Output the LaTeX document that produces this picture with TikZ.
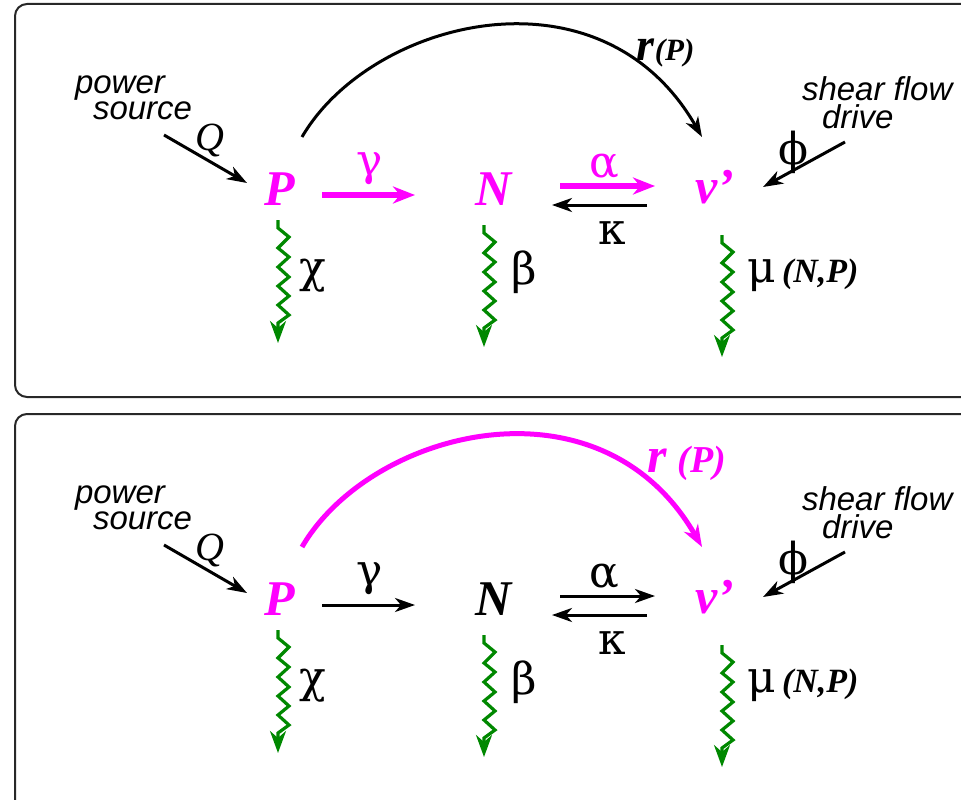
\documentclass[tikz,border=0pt]{standalone}
\usepackage{fontspec}
\setmainfont{Liberation Serif}
\newfontfamily\hvfont{Liberation Sans}
\newfontfamily\grfont{DejaVu Serif}
\usetikzlibrary{arrows.meta}
\definecolor{mag}{RGB}{255,0,255}
\definecolor{grn}{RGB}{0,136,0}
\definecolor{framec}{RGB}{40,40,40}
\newcommand\greenzz[2]{\draw[zigarrow] (#1) -- ++(0,8) -- ++(11,9) -- ++(-11,11) -- ++(11,9) -- ++(-11,10) -- ++(11,10) -- ++(-11,9) -- ++(11,10) -- ++(-11,9) -- ++(11,10) -- ++(-11,8) -- (#2);}
\begin{document}
\begin{tikzpicture}[x=1pt,y=-1pt,
  every node/.style={inner sep=0pt,outer sep=0pt},
  var/.style={font=\fontsize{50}{50}\selectfont\bfseries\itshape},
  grk/.style={font=\fontsize{44}{44}\selectfont\grfont},
  lbl/.style={font=\fontsize{33}{33}\selectfont\hvfont\itshape,anchor=base west},
  qlbl/.style={font=\fontsize{40}{40}\selectfont\itshape},
  nplbl/.style={anchor=base west,font=\fontsize{34}{34}\selectfont\bfseries\itshape},
  thinarrow/.style={line width=3pt,-{Stealth[length=20pt,width=14pt,inset=6pt]}},
  thickarrow/.style={line width=6pt,-{Stealth[length=22pt,width=17pt,inset=7pt]}},
  zigarrow/.style={draw=grn,line width=3.2pt,-{Stealth[length=22pt,width=16pt,inset=7pt]}},
  panel/.style={draw=framec,line width=2pt,rounded corners=12pt},
]
\useasboundingbox (0,0) rectangle (961,800);
\clip (0,0) rectangle (961,800);
\draw[panel] (15,4) rectangle (990,397);
\draw[panel] (15,414) rectangle (990,830);

% ---------------- top panel ----------------
\node[var,text=mag] (P1) at (280,189) {P};
\node[var,text=mag] (N1) at (494,189) {N};
\node[var,text=mag] (V1) at (715,187) {v’};
\node[lbl] (pw1) at (75,93) {power};
\node[lbl] (so1) at (93,119) {source};
\node[lbl] (sh1) at (802,100) {shear flow};
\node[lbl] (dr1) at (822,128) {drive};
\node[qlbl] (Q1) at (210,140) {Q};
\node[grk] (phi1) at (793,152) {ϕ};
\node[grk,text=mag] (g1) at (370,169) {γ};
\node[grk,text=mag] (a1) at (604,166) {α};
\node[grk] (k1) at (612,233) {κ};
\node[grk] (c1) at (313,276) {χ};
\node[grk] (b1) at (524,272) {β};
\node[grk] (m1) at (762,276) {μ};
\node[nplbl] (np1) at (782,282) {(N,P)};
\node[anchor=base west] (r1) at (636,61) {{\fontsize{46}{46}\selectfont\bfseries\itshape r}\kern1pt{\fontsize{31}{31}\selectfont\bfseries\itshape (P)}};
\coordinate (qs1) at (164,135);
\coordinate (fs1) at (845,142);
\draw[thinarrow] (qs1) -- ([shift={(-33,-6)}]P1.center);
\draw[thinarrow] (fs1) -- ([shift={(48,0)}]V1.center);
\draw[thickarrow,draw=mag,fill=mag] ([shift={(42,6)}]P1.center) -- ([shift={(-79,6)}]N1.center);
\draw[thickarrow,draw=mag,fill=mag] ([shift={(66,-3)}]N1.center) -- ([shift={(-60,-1)}]V1.center);
\draw[thinarrow] ([shift={(-68,18)}]V1.center) -- ([shift={(58,16)}]N1.center);
\draw[thinarrow] ([shift={(22,-52)}]P1.center) .. controls (370,20) and (600,-40) .. ([shift={(-13,-50)}]V1.center);
\coordinate (ze1) at (278,343);
\coordinate (ze2) at (484,347);
\coordinate (ze3) at (722,357);
\greenzz{[shift={(-2,31)}]P1.center}{ze1}
\greenzz{[shift={(-10,36)}]N1.center}{ze2}
\greenzz{[shift={(7,48)}]V1.center}{ze3}

% ---------------- bottom panel ----------------
\node[var,text=mag] (P2) at (280,599) {P};
\node[var] (N2) at (494,599) {N};
\node[var,text=mag] (V2) at (715,597) {v’};
\node[lbl] (pw2) at (75,503) {power};
\node[lbl] (so2) at (93,529) {source};
\node[lbl] (sh2) at (802,510) {shear flow};
\node[lbl] (dr2) at (822,538) {drive};
\node[qlbl] (Q2) at (210,550) {Q};
\node[grk] (phi2) at (793,562) {ϕ};
\node[grk] (g2) at (370,579) {γ};
\node[grk] (a2) at (604,576) {α};
\node[grk] (k2) at (612,643) {κ};
\node[grk] (c2) at (313,686) {χ};
\node[grk] (b2) at (524,682) {β};
\node[grk] (m2) at (762,686) {μ};
\node[nplbl] (np2) at (782,692) {(N,P)};
\node[anchor=base west,text=mag] (r2) at (647,472) {{\fontsize{50}{50}\selectfont\bfseries\itshape r}\kern11pt{\fontsize{38}{38}\selectfont\bfseries\itshape (P)}};
\coordinate (qs2) at (164,545);
\coordinate (fs2) at (845,552);
\draw[thinarrow] (qs2) -- ([shift={(-33,-6)}]P2.center);
\draw[thinarrow] (fs2) -- ([shift={(48,0)}]V2.center);
\draw[thinarrow] ([shift={(42,6)}]P2.center) -- ([shift={(-79,6)}]N2.center);
\draw[thinarrow] ([shift={(66,-3)}]N2.center) -- ([shift={(-60,-1)}]V2.center);
\draw[thinarrow] ([shift={(-68,18)}]V2.center) -- ([shift={(58,16)}]N2.center);
\draw[line width=5pt,draw=mag,-{Stealth[length=22pt,width=16pt,inset=7pt]}] ([shift={(22,-52)}]P2.center) .. controls (370,430) and (600,370) .. ([shift={(-13,-50)}]V2.center);
\coordinate (ze4) at (278,753);
\coordinate (ze5) at (484,757);
\coordinate (ze6) at (722,767);
\greenzz{[shift={(-2,31)}]P2.center}{ze4}
\greenzz{[shift={(-10,36)}]N2.center}{ze5}
\greenzz{[shift={(7,48)}]V2.center}{ze6}
\end{tikzpicture}
\end{document}
